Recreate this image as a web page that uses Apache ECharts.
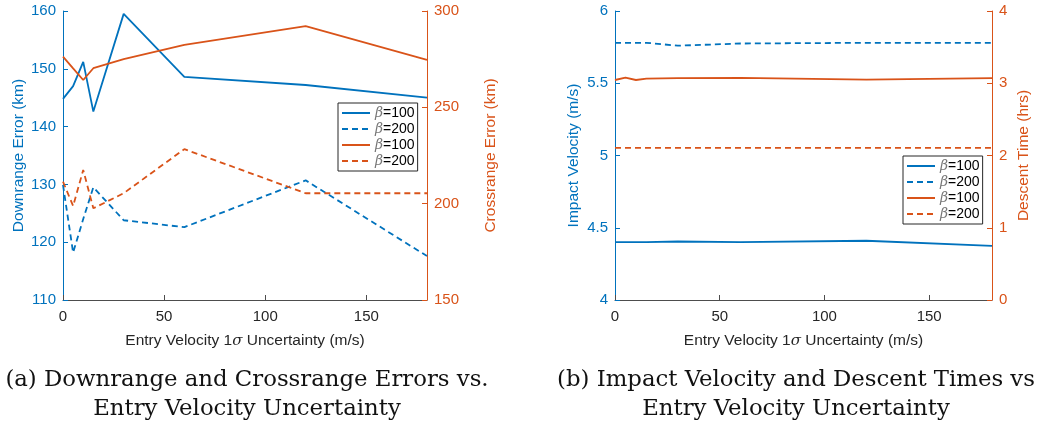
<!DOCTYPE html>
<html>
<head>
<meta charset="utf-8">
<script src="https://cdn.jsdelivr.net/npm/echarts@6/dist/echarts.min.js"></script>
<style>
  html, body { margin: 0; padding: 0; background: #fff; }
  #chart { width: 1037px; height: 430px; }
</style>
</head>
<body>
<div id="chart"></div>
<script>
// entry velocity 1-sigma uncertainty (m/s)
const velUncertainty = [0, 5, 10, 15, 30, 60, 120, 180];

// (a) downrange / crossrange errors (km)
const downrange100 = [144.8, 147.0, 151.2, 142.6, 159.5, 148.6, 147.2, 145.0];
const downrange200 = [129.9, 118.2, 124.0, 129.5, 123.8, 122.6, 130.7, 117.6];
const crossrange100 = [276.3, 270.2, 264.2, 270.3, 275.0, 282.4, 292.2, 274.6];
const crossrange200 = [211.4, 198.8, 217.5, 197.6, 205.4, 228.3, 205.4, 205.4];

// (b) impact velocity (m/s) and descent time (hrs)
const impact100 = [4.40, 4.40, 4.40, 4.40, 4.405, 4.40, 4.41, 4.375];
const impact200 = [5.78, 5.78, 5.78, 5.78, 5.76, 5.775, 5.78, 5.78];
const descent100 = [3.045, 3.077, 3.045, 3.063, 3.07, 3.075, 3.05, 3.07];
const descent200 = [2.105, 2.105, 2.105, 2.105, 2.105, 2.105, 2.105, 2.105];

const legendLabels = {
  dr100: '{i|β}=100', dr200: '{i|β}=200', cr100: '{i|β}=100', cr200: '{i|β}=200',
  iv100: '{i|β}=100', iv200: '{i|β}=200', dt100: '{i|β}=100', dt200: '{i|β}=200'
};

const BLUE = '#0072BD';
const ORANGE = '#D95319';
const AXIS_GRAY = '#4d4d4d';
const FONT = 'Liberation Sans';

function pairs(ys) {
  return velUncertainty.map((x, i) => [x, ys[i]]);
}

function lineSeries(name, ys, color, dashed, xi, yi) {
  return {
    type: 'line',
    name: name,
    xAxisIndex: xi,
    yAxisIndex: yi,
    data: pairs(ys),
    symbol: 'none',
    showSymbol: false,
    lineStyle: { color: color, width: 1.8, type: dashed ? [6, 4] : 'solid' },
    itemStyle: { color: color },
    animation: false
  };
}

function xAxis(gridIndex) {
  return {
    type: 'value',
    gridIndex: gridIndex,
    min: 0, max: 180, interval: 50,
    name: 'Entry Velocity 1{i|σ} Uncertainty (m/s)',
    nameLocation: 'middle',
    nameGap: 33,
    nameTextStyle: {
      color: '#262626', fontFamily: FONT, fontSize: 15.5,
      rich: { i: { fontStyle: 'italic', fontFamily: 'DejaVu Serif', fontSize: 15, color: '#262626' } }
    },
    axisLine: { show: true, lineStyle: { color: AXIS_GRAY, width: 1 } },
    axisTick: { inside: true, length: 5, lineStyle: { color: AXIS_GRAY } },
    axisLabel: { color: '#262626', fontFamily: FONT, fontSize: 15, margin: 9, showMaxLabel: false },
    splitLine: { show: false }
  };
}

function yAxis(gridIndex, pos, min, max, interval, color, name, gap) {
  return {
    type: 'value',
    gridIndex: gridIndex,
    position: pos,
    min: min, max: max, interval: interval,
    name: name,
    nameLocation: 'middle',
    nameGap: gap,
    nameTextStyle: { color: color, fontFamily: FONT, fontSize: 15.5 },
    axisLine: { show: true, onZero: false, lineStyle: { color: color, width: 1 } },
    axisTick: { show: true, inside: true, length: 5, lineStyle: { color: color } },
    axisLabel: { color: color, fontFamily: FONT, fontSize: 15, margin: 7 },
    splitLine: { show: false }
  };
}

function legend(names, left, top) {
  return {
    data: names,
    orient: 'vertical',
    left: left,
    top: top,
    itemWidth: 28,
    itemHeight: 10,
    itemGap: 2,
    padding: [3, 3, 3, 3],
    borderColor: '#262626',
    borderWidth: 1,
    borderRadius: 0,
    backgroundColor: '#fff',
    itemStyle: { color: 'transparent', borderWidth: 0, opacity: 0 },
    formatter: n => legendLabels[n],
    textStyle: {
      color: '#000', fontFamily: FONT, fontSize: 14,
      rich: { i: { fontStyle: 'italic', fontFamily: 'DejaVu Serif', fontSize: 14, color: '#777' } }
    }
  };
}

const captionStyle = {
  fontFamily: 'DejaVu Serif', fontWeight: 'normal', fontSize: 22.8, lineHeight: 29, color: '#111'
};

const chart = echarts.init(document.getElementById('chart'));
chart.setOption({
  animation: false,
  title: [
    {
      text: '(a) Downrange and Crossrange Errors vs.\nEntry Velocity Uncertainty',
      left: 242, top: 361, textAlign: 'center',
      textStyle: captionStyle
    },
    {
      text: '(b) Impact Velocity and Descent Times vs\nEntry Velocity Uncertainty',
      left: 791, top: 361, textAlign: 'center',
      textStyle: captionStyle
    }
  ],
  grid: [
    { left: 63, right: 610, top: 11, bottom: 130 },
    { left: 615, right: 45, top: 11, bottom: 130 }
  ],
  xAxis: [xAxis(0), xAxis(1)],
  yAxis: [
    yAxis(0, 'left', 110, 160, 10, BLUE, 'Downrange Error (km)', 36),
    yAxis(0, 'right', 150, 300, 50, ORANGE, 'Crossrange Error (km)', 56),
    yAxis(1, 'left', 4, 6, 0.5, BLUE, 'Impact Velocity (m/s)', 33),
    yAxis(1, 'right', 0, 4, 1, ORANGE, 'Descent Time (hrs)', 24)
  ],
  legend: [
    legend(['dr100', 'dr200', 'cr100', 'cr200'], 338, 103),
    legend(['iv100', 'iv200', 'dt100', 'dt200'], 903, 156)
  ],
  series: [
    lineSeries('dr100', downrange100, BLUE, false, 0, 0),
    lineSeries('dr200', downrange200, BLUE, true, 0, 0),
    lineSeries('cr100', crossrange100, ORANGE, false, 0, 1),
    lineSeries('cr200', crossrange200, ORANGE, true, 0, 1),
    lineSeries('iv100', impact100, BLUE, false, 1, 2),
    lineSeries('iv200', impact200, BLUE, true, 1, 2),
    lineSeries('dt100', descent100, ORANGE, false, 1, 3),
    lineSeries('dt200', descent200, ORANGE, true, 1, 3)
  ]
});
</script>
</body>
</html>
